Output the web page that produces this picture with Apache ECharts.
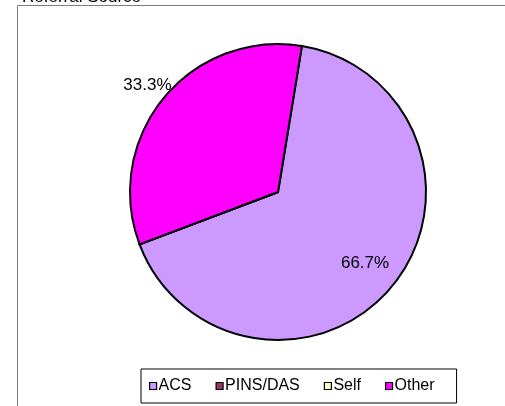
<!DOCTYPE html>
<html>
<head>
<meta charset="utf-8">
<script src="https://cdn.jsdelivr.net/npm/echarts@6/dist/echarts.min.js"></script>
<style>
  html, body { margin: 0; padding: 0; background: #fff; }
  #chart { width: 505px; height: 406px; }
</style>
</head>
<body>
<div id="chart"></div>
<script>
const TITLE = "Referral Source";
const CATEGORIES = ["ACS", "PINS/DAS", "Self", "Other"];
const VALUES = [2, 0, 0, 1];
const COLORS = ["#CC99FF", "#993366", "#FFFFCC", "#FF00FF"];

const CENTER = [278, 192];
const RADIUS = 148;
const START_ANGLE = 80.7;
// how far out each label sits, as a share of the radius
const LABEL_REACH = [0.76, 1, 1, 1.14];

const total = VALUES.reduce((a, b) => a + b, 0);

function midAngle(index) {
  let before = 0;
  for (let i = 0; i < index; i++) before += VALUES[i];
  const mid = (before + VALUES[index] / 2) / total * 360;
  return (START_ANGLE - mid) * Math.PI / 180;
}

const pieData = CATEGORIES.map((name, i) => ({
  name,
  value: VALUES[i],
  itemStyle: { color: COLORS[i] },
  label: { show: VALUES[i] > 0 }
}));

const chart = echarts.init(document.getElementById("chart"), null, { renderer: "canvas" });

chart.setOption({
  animation: false,
  backgroundColor: "#ffffff",
  title: {
    text: TITLE,
    left: 22,
    top: -11,
    padding: 0,
    textStyle: { fontFamily: "Liberation Sans", fontSize: 17, fontWeight: "normal", color: "#000" }
  },
  graphic: [{
    type: "rect",
    shape: { x: 17.5, y: 5.5, width: 520, height: 430 },
    style: { fill: "none", stroke: "#7f7f7f", lineWidth: 1 },
    z: -1
  }],
  legend: {
    data: CATEGORIES,
    left: 141,
    top: 369,
    orient: "horizontal",
    icon: "rect",
    itemWidth: 7,
    itemHeight: 7,
    itemGap: 24,
    padding: [9, 22, 9, 8],
    borderColor: "#000",
    borderWidth: 1,
    backgroundColor: "#fff",
    selectedMode: false,
    itemStyle: { borderColor: "#000", borderWidth: 1.2 },
    textStyle: { fontFamily: "Liberation Sans", fontSize: 16, color: "#000", padding: [0, 0, 0, -3] }
  },
  series: [{
    type: "pie",
    center: CENTER,
    radius: RADIUS,
    startAngle: START_ANGLE,
    clockwise: true,
    percentPrecision: 1,
    stillShowZeroSum: true,
    itemStyle: { borderColor: "#000", borderWidth: 2 },
    label: {
      formatter: "{d}%",
      fontFamily: "Liberation Sans",
      fontSize: 17,
      color: "#000"
    },
    labelLine: { show: false },
    labelLayout: params => {
      const i = params.dataIndex;
      const a = midAngle(i);
      const r = RADIUS * LABEL_REACH[i];
      return {
        x: CENTER[0] + r * Math.cos(a),
        y: CENTER[1] - r * Math.sin(a),
        align: "center",
        verticalAlign: "middle"
      };
    },
    emphasis: { disabled: true },
    data: pieData
  }]
});
</script>
</body>
</html>
